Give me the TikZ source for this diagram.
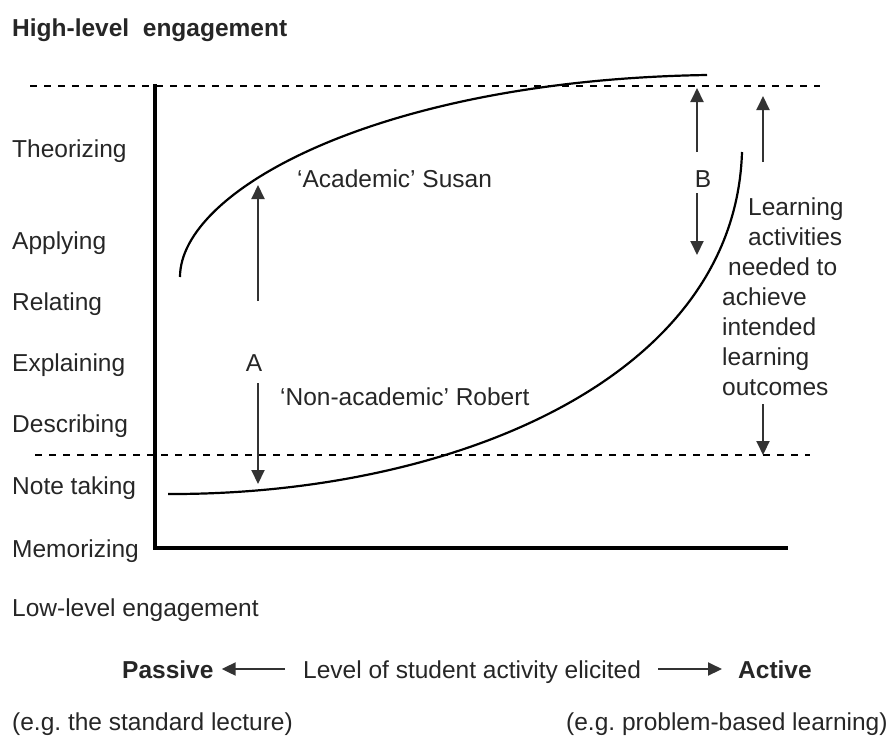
\documentclass[tikz,border=0pt]{standalone}
\usepackage{fontspec}
\setmainfont{Liberation Sans}
\frenchspacing
\usetikzlibrary{arrows.meta}
\begin{document}
\begin{tikzpicture}[x=1pt,y=-1pt,
  every node/.style={inner sep=0,anchor=base west,text=black!85,font=\fontsize{24.5}{30}\selectfont},
  bold/.style={font=\fontsize{24.5}{30}\selectfont\bfseries},
  arr/.style={-{Triangle[length=14pt,width=13pt]},line width=2pt,black!80},
  guide/.style={line width=2pt,dash pattern=on 7pt off 7pt},
  curve/.style={line width=2.2pt}]
  \useasboundingbox (0,0) rectangle (893,745);
  \draw[guide] (30,86) -- (820,86);
  \draw[guide] (35,455) -- (810,455);
  \draw[line width=4.5pt] (155,84) -- (155,548) -- (788,548);
  \draw[curve] (180,277) .. controls (180,190) and (380,80) .. (707,75);
  \draw[curve] (168,494) .. controls (450,495) and (735,380) .. (742,152);
  \node[bold] (high) at (12,36) {High-level\ \ engagement};
  \node (theorizing) at (12,157) {Theorizing};
  \node (applying) at (12,249) {Applying};
  \node (relating) at (12,310) {Relating};
  \node (explaining) at (12,371) {Explaining};
  \node (describing) at (12,432) {Describing};
  \node (notetaking) at (12,494) {Note taking};
  \node (memorizing) at (12,557) {Memorizing};
  \node (low) at (12,616) {Low-level engagement};
  \node (susan) at (297,187) {`Academic' Susan};
  \node (robert) at (280,405) {`Non-academic' Robert};
  \node[anchor=base] (A) at (254,371) {A};
  \node[anchor=base] (B) at (703,187) {B};
  \coordinate (a-up) at (258,301);
  \coordinate (a-top) at (258,185);
  \coordinate (a-down) at (258,383);
  \coordinate (a-bot) at (258,484);
  \draw[arr] (a-up) -- (a-top);
  \draw[arr] (a-down) -- (a-bot);
  \coordinate (b-up) at (697,152);
  \coordinate (b-top) at (697,88);
  \coordinate (b-down) at (697,193);
  \coordinate (b-bot) at (697,255);
  \draw[arr] (b-up) -- (b-top);
  \draw[arr] (b-down) -- (b-bot);
  \node[align=left] (needed) at (722,395) {\hspace{26pt}Learning\\
    \hspace{26pt}activities\\
    \hspace{6pt}needed to\\
    achieve\\
    intended\\
    learning\\
    outcomes};
  \coordinate (n-up) at (763,162);
  \coordinate (n-top) at (763,96);
  \coordinate (n-down) at (763,404);
  \coordinate (n-bot) at (763,455);
  \draw[arr] (n-up) -- (n-top);
  \draw[arr] (n-down) -- (n-bot);
  \node[bold] (passive) at (122,678) {Passive};
  \node (level) at (303,678) {Level of student activity elicited};
  \node[bold] (active) at (738,678) {Active};
  \draw[arr] ([shift={(-18,-9)}]level.base west) -- ([shift={(8,-9)}]passive.base east);
  \draw[arr] ([shift={(17,-9)}]level.base east) -- ([shift={(-16,-9)}]active.base west);
  \node (lecture) at (12,730) {(e.g. the standard lecture)};
  \node (pbl) at (566,730) {(e.g. problem-based learning)};
\end{tikzpicture}
\end{document}
